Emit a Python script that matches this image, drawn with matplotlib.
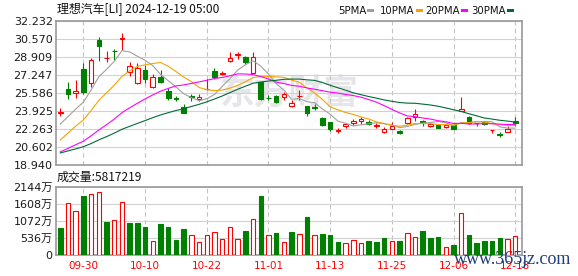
import numpy as np
import matplotlib
matplotlib.use("Agg")
import matplotlib.pyplot as plt
from matplotlib.patches import Rectangle

plt.rcParams["font.family"] = ["DejaVu Sans", "Noto Sans CJK SC"]

# ── Données ──
dates = ["09-25", "09-26", "09-27", "09-30", "10-01", "10-02", "10-03", "10-04", "10-07", "10-08",
         "10-09", "10-10", "10-11", "10-14", "10-15", "10-16", "10-17", "10-18", "10-21", "10-22",
         "10-23", "10-24", "10-25", "10-28", "10-29", "10-30", "10-31", "11-01", "11-04", "11-05",
         "11-06", "11-07", "11-08", "11-11", "11-12", "11-13", "11-14", "11-15", "11-18", "11-19",
         "11-20", "11-21", "11-22", "11-25", "11-26", "11-27", "11-29", "12-02", "12-03", "12-04",
         "12-05", "12-06", "12-09", "12-10", "12-11", "12-12", "12-13", "12-16", "12-17", "12-18"]

opens = [23.75, 25.92, 25.55, 27.77, 26.54, 30.48, 28.80, 29.48, 30.58, 27.52,
         26.54, 27.71, 26.17, 27.09, 25.77, 25.11, 24.26, 25.27, 25.00, 25.96,
         27.62, 27.34, 28.57, 29.13, 28.94, 27.46, 26.60, 25.17, 25.31, 25.25,
         24.34, 25.29, 24.38, 24.28, 23.25, 22.88, 22.09, 22.54, 22.85, 22.97,
         22.91, 22.58, 22.02, 22.29, 22.11, 22.78, 23.34, 23.00, 22.54, 22.60,
         22.42, 22.66, 23.89, 23.34, 22.78, 22.91, 22.15, 21.79, 21.96, 22.99]
closes = [23.80, 25.46, 25.77, 25.68, 28.63, 29.92, 28.85, 29.45, 30.62, 28.08,
          27.92, 26.91, 27.03, 26.60, 25.15, 25.07, 23.77, 25.20, 25.22, 26.00,
          27.09, 27.46, 28.78, 29.17, 28.45, 28.94, 25.03, 25.13, 24.72, 25.49,
          24.66, 25.33, 23.71, 24.24, 22.63, 22.26, 22.13, 22.69, 23.00, 23.15,
          22.72, 22.62, 22.23, 22.51, 21.86, 23.25, 23.62, 22.78, 22.74, 22.39,
          22.60, 22.29, 24.14, 22.82, 22.80, 22.72, 22.17, 21.75, 22.29, 22.79]
highs = [24.20, 26.57, 26.78, 28.39, 28.85, 30.79, 29.46, 29.68, 31.09, 28.45,
         28.32, 28.17, 27.34, 27.71, 26.08, 25.34, 24.54, 25.46, 25.46, 26.88,
         27.86, 27.62, 29.40, 29.40, 29.00, 29.34, 26.60, 25.40, 25.40, 25.65,
         24.94, 25.86, 24.40, 24.57, 23.34, 22.94, 22.39, 22.85, 23.15, 23.34,
         23.09, 22.82, 22.48, 22.91, 22.17, 23.34, 24.11, 23.09, 22.85, 22.72,
         22.72, 22.82, 25.22, 23.43, 22.85, 22.97, 22.19, 21.98, 22.50, 23.34]
lows = [23.45, 25.03, 25.15, 25.46, 26.11, 28.57, 28.48, 28.63, 29.55, 27.15,
        26.42, 26.54, 26.08, 26.48, 24.94, 24.85, 23.71, 24.82, 24.88, 25.86,
        26.85, 27.22, 28.48, 28.72, 28.23, 27.40, 24.94, 24.94, 24.69, 24.94,
        24.26, 24.94, 23.49, 24.02, 22.57, 22.08, 21.86, 22.32, 22.63, 22.72,
        22.63, 22.35, 21.92, 22.23, 21.80, 22.72, 23.03, 22.54, 22.48, 22.32,
        22.32, 22.23, 23.89, 22.72, 22.51, 22.66, 21.88, 21.55, 21.95, 22.54]
prev_close = 24.05  # clôture de la veille du premier jour

ma5 = [22.72, 23.41, 24.10, 24.74, 25.87, 27.09, 27.77, 28.51, 29.49, 29.38,
       28.98, 28.60, 28.11, 27.31, 26.72, 26.15, 25.52, 25.16, 24.88, 25.05,
       25.45, 26.19, 26.90, 27.70, 28.19, 28.56, 28.07, 27.34, 26.45, 25.86,
       25.01, 25.07, 24.78, 24.69, 24.11, 23.63, 22.99, 22.79, 22.54, 22.65,
       22.74, 22.84, 22.74, 22.65, 22.39, 22.49, 22.69, 22.80, 22.86, 22.96,
       22.83, 22.57, 22.84, 22.85, 22.93, 22.96, 22.93, 22.46, 22.35, 22.34]
ma10 = [21.25, 21.89, 22.52, 23.11, 23.97, 24.91, 25.60, 26.31, 27.12, 27.63,
        28.04, 28.18, 28.31, 28.40, 28.05, 27.57, 27.06, 26.64, 26.09, 25.89,
        25.80, 25.86, 26.03, 26.29, 26.62, 27.01, 27.13, 27.12, 27.08, 27.03,
        26.78, 26.57, 26.06, 25.57, 24.99, 24.32, 24.03, 23.79, 23.61, 23.38,
        23.19, 22.92, 22.77, 22.59, 22.52, 22.62, 22.77, 22.77, 22.75, 22.68,
        22.66, 22.63, 22.82, 22.85, 22.95, 22.90, 22.75, 22.65, 22.60, 22.64]
ma20 = [20.15, 20.47, 20.81, 21.14, 21.63, 22.17, 22.66, 23.18, 23.77, 24.22,
        24.64, 25.04, 25.41, 25.75, 26.01, 26.24, 26.33, 26.47, 26.61, 26.76,
        26.92, 27.02, 27.17, 27.35, 27.34, 27.29, 27.10, 26.88, 26.59, 26.46,
        26.29, 26.21, 26.05, 25.93, 25.80, 25.66, 25.58, 25.45, 25.35, 25.20,
        24.98, 24.74, 24.42, 24.08, 23.75, 23.47, 23.40, 23.28, 23.18, 23.03,
        22.93, 22.77, 22.79, 22.72, 22.73, 22.76, 22.76, 22.71, 22.68, 22.66]
ma30 = [20.05, 20.24, 20.43, 20.63, 20.92, 21.26, 21.56, 21.88, 22.24, 22.51,
        22.78, 23.04, 23.31, 23.56, 23.77, 23.97, 24.13, 24.34, 24.54, 24.77,
        25.03, 25.31, 25.62, 25.93, 26.21, 26.49, 26.60, 26.69, 26.76, 26.85,
        26.87, 26.87, 26.80, 26.75, 26.55, 26.30, 26.07, 25.85, 25.60, 25.43,
        25.26, 25.11, 24.95, 24.82, 24.71, 24.65, 24.64, 24.56, 24.48, 24.36,
        24.21, 24.04, 23.88, 23.67, 23.48, 23.28, 23.18, 23.07, 22.99, 22.90]

# volume en 万 (10 000 actions)
volumes = [833, 1634, 1385, 1863, 1915, 1990, 1051, 1103, 1666, 1020,
           989, 864, 448, 958, 864, 458, 802, 635, 416, 635,
           729, 510, 864, 510, 739, 1135, 1863, 635, 677, 416,
           708, 666, 1208, 635, 645, 614, 396, 385, 479, 385,
           427, 396, 521, 448, 427, 697, 573, 739, 521, 552,
           260, 302, 1322, 614, 364, 427, 427, 521, 510, 581.7219]

price_ticks = [18.940, 20.602, 22.263, 23.925, 25.586, 27.247, 28.909, 30.570, 32.232]
vol_ticks = [0, 536, 1072, 1608, 2144]
ma_names = ["5PMA", "10PMA", "20PMA", "30PMA"]

# ── Styles ──
RED = "#ff0000"
GREEN = "#008000"
MA_COLORS = ["#a0a0a0", "#f5a300", "#ff00ff", "#006b36"]
GRID = "#d2d2d2"
FRAME = "#9a9a9a"

W, H = 578, 276
def fx(px):
    return px / W
def fy(py):
    return 1 - py / H

opens = np.array(opens); closes = np.array(closes)
x = np.arange(len(closes))
tick_idx = x[3::8]

fig = plt.figure(figsize=(5.78, 2.76), dpi=100)
ax1 = fig.add_axes([fx(55.5), fy(165), fx(522) - fx(55.5), fy(21) - fy(165)])
ax2 = fig.add_axes([fx(55.5), fy(255), fx(522) - fx(55.5), fy(186.7) - fy(255)])

# ── K线 ──
up = closes >= opens
edge = np.where(up, RED, GREEN)
face = np.where(up, "white", GREEN)
ax1.vlines(x, lows, highs, colors=edge, lw=0.8, zorder=3)
body = np.maximum(np.abs(closes - opens), 0.02)
ax1.bar(x, body, bottom=np.minimum(opens, closes), width=0.6,
        color=face, edgecolor=edge, lw=0.8, zorder=4)

for ma, c in zip([ma5, ma10, ma20, ma30], MA_COLORS):
    ax1.plot(x, ma, color=c, lw=0.8, zorder=5)

ax1.text(29.7, 25.6, "东方财富", fontsize=25, color="#e6e6ea", ha="center", va="center",
         family=["Noto Sans CJK SC"], fontweight="bold", zorder=0.5)

# ── 成交量 ──
prev = np.concatenate([[prev_close], closes[:-1]])
vup = closes >= prev
vedge = np.where(vup, RED, GREEN)
vface = np.where(vup, "white", GREEN)
ax2.bar(x, volumes, width=0.58, color=vface, edgecolor=vedge, lw=0.8, zorder=4)

# ── Axes ──
for ax in (ax1, ax2):
    ax.set_xlim(-0.62, 59.88)
    ax.grid(axis="y", color=GRID, lw=0.8, zorder=1)
    for t in tick_idx:
        ax.axvline(t, color="#c4c4c4", lw=0.8, ls=(0, (4, 3)), zorder=1)
    for s in ax.spines.values():
        s.set_color(FRAME)
        s.set_linewidth(1.2)
    ax.tick_params(length=0, labelsize=8, labelcolor="#1a1a1a", pad=2)

ax1.set_ylim(price_ticks[0], price_ticks[-1])
ax1.set_yticks(price_ticks, [f"{v:.3f}" for v in price_ticks])
ax1.set_xticks([])

ax2.set_ylim(0, vol_ticks[-1])
ax2.set_yticks(vol_ticks, ["0"] + [f"{v}万" for v in vol_ticks[1:]])
ax2.set_xticks(tick_idx, [dates[i] for i in tick_idx])
ax2.tick_params(axis="x", labelcolor=RED, labelsize=7.5, pad=4)

# ── Textes ──
fig.text(fx(57), fy(10), "理想汽车[LI] 2024-12-19 05:00", fontsize=8.6, ha="left", va="center",
         family=["Noto Sans CJK SC"], color="#111111")
fig.text(fx(57), fy(177), "成交量:5817219", fontsize=8.6, ha="left", va="center",
         family=["Noto Sans CJK SC"], color="#111111")

label_x = [338, 380, 425, 471]
dash_x = [367, 416, 461, 507]
for name, lx, dx, c in zip(ma_names, label_x, dash_x, MA_COLORS):
    fig.text(fx(lx), fy(10.5), name, fontsize=7.3, ha="left", va="center", color="#111111")
    fig.add_artist(Rectangle((fx(dx), fy(12)), 7 / W, 3 / H, transform=fig.transFigure,
                             color=c, lw=0))

fig.text(fx(513), fy(260), "www.365jz.com", fontsize=13, ha="center", va="center",
         family=["Liberation Serif"], color="#1f3f7c", zorder=10)

plt.savefig("out.png", dpi=100)
